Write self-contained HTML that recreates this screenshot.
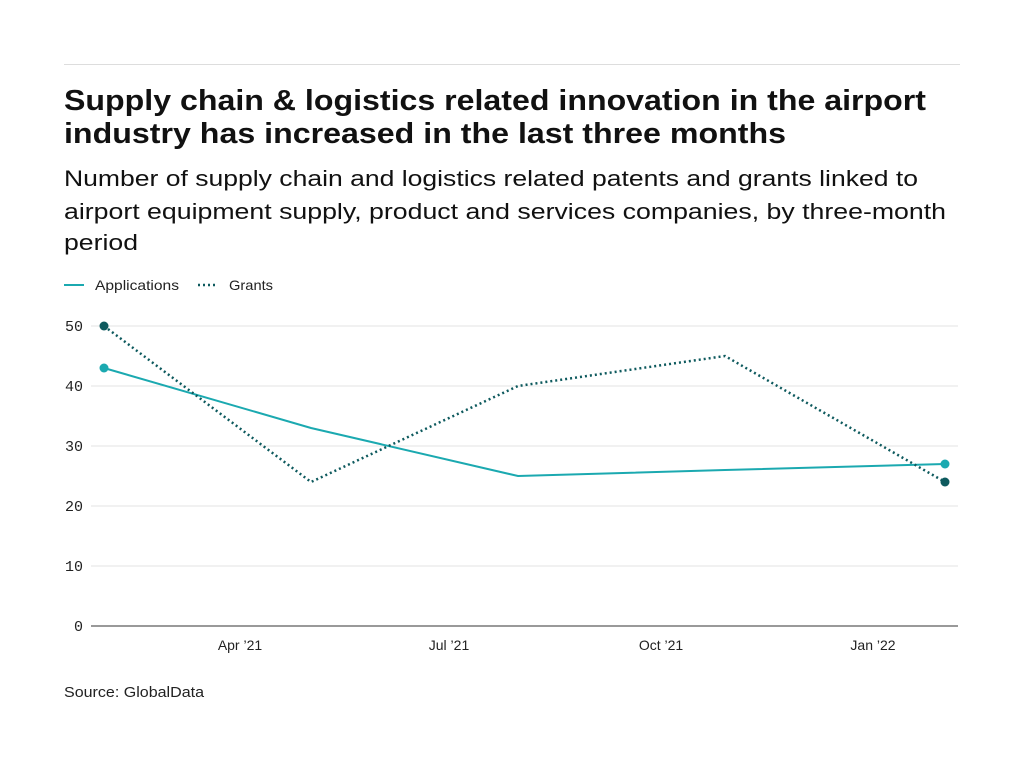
<!DOCTYPE html>
<html><head><style>body{margin:0;background:#fff}svg{display:block}</style></head><body>
<svg width="1024" height="768" xmlns="http://www.w3.org/2000/svg" font-family="Liberation Sans, sans-serif">
<line x1="64" y1="64.5" x2="960" y2="64.5" stroke="#ddd" stroke-width="1"/>
<text x="64" y="110" font-size="29" font-weight="bold" fill="#111" textLength="862" lengthAdjust="spacingAndGlyphs">Supply chain &amp; logistics related innovation in the airport</text>
<text x="64" y="143" font-size="29" font-weight="bold" fill="#111" textLength="722" lengthAdjust="spacingAndGlyphs">industry has increased in the last three months</text>
<text x="64" y="186" font-size="22" fill="#111" textLength="854" lengthAdjust="spacingAndGlyphs">Number of supply chain and logistics related patents and grants linked to</text>
<text x="64" y="219" font-size="22" fill="#111" textLength="882" lengthAdjust="spacingAndGlyphs">airport equipment supply, product and services companies, by three-month</text>
<text x="64" y="250" font-size="22" fill="#111" textLength="74" lengthAdjust="spacingAndGlyphs">period</text>
<line x1="64" y1="285" x2="84" y2="285" stroke="#1ba9b0" stroke-width="2"/>
<text x="95" y="290" font-size="14" fill="#222" textLength="84" lengthAdjust="spacingAndGlyphs">Applications</text>
<line x1="198" y1="285" x2="218" y2="285" stroke="#0e5a5e" stroke-width="2.5" stroke-dasharray="2,3"/>
<text x="229" y="290" font-size="14" fill="#222" textLength="44" lengthAdjust="spacingAndGlyphs">Grants</text>
<g stroke="#e3e3e3" stroke-width="1">
<line x1="91" y1="326" x2="958" y2="326"/><line x1="91" y1="386" x2="958" y2="386"/>
<line x1="91" y1="446" x2="958" y2="446"/><line x1="91" y1="506" x2="958" y2="506"/>
<line x1="91" y1="566" x2="958" y2="566"/>
</g>
<line x1="91" y1="626" x2="958" y2="626" stroke="#333" stroke-width="1"/>
<g font-family="Liberation Mono, monospace" font-size="15" fill="#222" text-anchor="end">
<text x="83" y="331">50</text><text x="83" y="391">40</text><text x="83" y="451">30</text>
<text x="83" y="511">20</text><text x="83" y="571">10</text><text x="83" y="631">0</text>
</g>
<g font-size="14" fill="#222" text-anchor="middle">
<text x="240" y="650">Apr ’21</text><text x="449" y="650">Jul ’21</text>
<text x="661" y="650">Oct ’21</text><text x="873" y="650">Jan ’22</text>
</g>
<polyline points="104,368 311,428 518,476 725,470 945,464" fill="none" stroke="#1ba9b0" stroke-width="2"/>
<polyline points="104,326 311,482 518,386 725,356 945,482" fill="none" stroke="#0e5a5e" stroke-width="2.5" stroke-dasharray="2,3"/>
<circle cx="104" cy="368" r="4.5" fill="#1ba9b0"/><circle cx="945" cy="464" r="4.5" fill="#1ba9b0"/>
<circle cx="104" cy="326" r="4.5" fill="#0e5a5e"/><circle cx="945" cy="482" r="4.5" fill="#0e5a5e"/>
<text x="64" y="697" font-size="15" fill="#222" textLength="140" lengthAdjust="spacingAndGlyphs">Source: GlobalData</text>
</svg>
</body></html>
